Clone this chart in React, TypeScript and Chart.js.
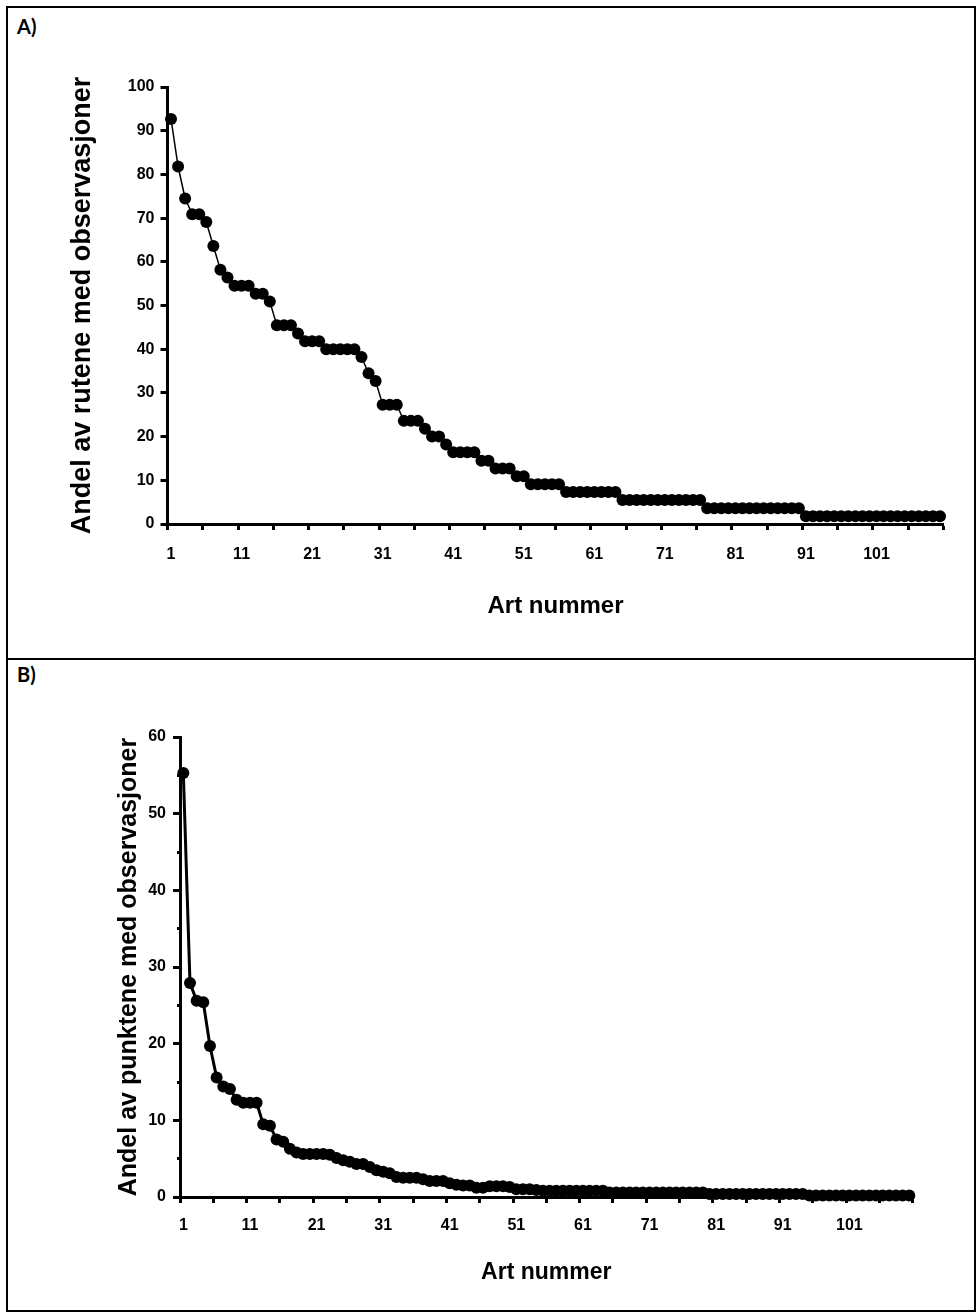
import React, { useEffect, useRef } from 'react';
import { Chart, registerables } from 'chart.js';

Chart.register(...registerables);

// Panel A: share of grid squares (ruter) with observations, per species (sorted)
const A_VALUES = [
  92.7, 81.8, 74.5, 70.9, 70.9, 69.1, 63.6, 58.2, 56.4, 54.5,
  54.5, 54.5, 52.7, 52.7, 50.9, 45.5, 45.5, 45.5, 43.6, 41.8,
  41.8, 41.8, 40.0, 40.0, 40.0, 40.0, 40.0, 38.2, 34.5, 32.7,
  27.3, 27.3, 27.3, 23.6, 23.6, 23.6, 21.8, 20.0, 20.0, 18.2,
  16.4, 16.4, 16.4, 16.4, 14.5, 14.5, 12.7, 12.7, 12.7, 10.9,
  10.9, 9.1, 9.1, 9.1, 9.1, 9.1, 7.3, 7.3, 7.3, 7.3,
  7.3, 7.3, 7.3, 7.3, 5.5, 5.5, 5.5, 5.5, 5.5, 5.5,
  5.5, 5.5, 5.5, 5.5, 5.5, 5.5, 3.6, 3.6, 3.6, 3.6,
  3.6, 3.6, 3.6, 3.6, 3.6, 3.6, 3.6, 3.6, 3.6, 3.6,
  1.8, 1.8, 1.8, 1.8, 1.8, 1.8, 1.8, 1.8, 1.8, 1.8,
  1.8, 1.8, 1.8, 1.8, 1.8, 1.8, 1.8, 1.8, 1.8, 1.8,
];

// Panel B: share of points (punkter) with observations, per species (sorted)
const B_VALUES = [
  55.3, 27.9, 25.6, 25.4, 19.7, 15.6, 14.4, 14.1, 12.7, 12.3,
  12.3, 12.3, 9.5, 9.3, 7.5, 7.2, 6.3, 5.8, 5.6, 5.6,
  5.6, 5.6, 5.5, 5.1, 4.8, 4.6, 4.3, 4.3, 3.9, 3.5,
  3.3, 3.1, 2.6, 2.5, 2.5, 2.5, 2.3, 2.1, 2.1, 2.1,
  1.8, 1.6, 1.5, 1.5, 1.2, 1.2, 1.4, 1.4, 1.4, 1.3,
  1.0, 1.0, 1.0, 0.9, 0.8, 0.8, 0.8, 0.8, 0.8, 0.8,
  0.8, 0.8, 0.8, 0.8, 0.6, 0.6, 0.6, 0.6, 0.6, 0.6,
  0.6, 0.6, 0.6, 0.6, 0.6, 0.6, 0.6, 0.6, 0.6, 0.4,
  0.4, 0.4, 0.4, 0.4, 0.4, 0.4, 0.4, 0.4, 0.4, 0.4,
  0.4, 0.4, 0.4, 0.4, 0.2, 0.2, 0.2, 0.2, 0.2, 0.2,
  0.2, 0.2, 0.2, 0.2, 0.2, 0.2, 0.2, 0.2, 0.2, 0.2,
];

// Species numbers (category labels)
const SPECIES = A_VALUES.map((_, i) => String(i + 1));

const A_Y_TITLE = 'Andel av rutene med observasjoner';
const B_Y_TITLE = 'Andel av punktene med observasjoner';
const X_TITLE = 'Art nummer';

const A_Y_MAX = 100;
const A_Y_STEP = 10;
const A_Y_LABEL_STEP = 10;
const B_Y_MAX = 60;
const B_Y_STEP = 5;
const B_Y_LABEL_STEP = 10;
const X_TICK_EVERY = 5;
const X_LABEL_EVERY = 10;

const FONT = '"Liberation Sans", Arial, Helvetica, sans-serif';

type PanelProps = {
  values: number[];
  yMax: number;
  yStep: number;
  yLabelStep: number;
  yTitle: string;
  yTitleSize: number;
  xTitleSize: number;
  xTitlePad: number;
  lineWidth: number;
  pointRadius: number;
  height: number;
  padding: { left: number; top: number; right: number; bottom: number };
  yWidth: number;
  xHeight: number;
  yTickPad: number;
  xTickPad: number;
};

function Panel(p: PanelProps) {
  const ref = useRef<HTMLCanvasElement | null>(null);
  useEffect(() => {
    if (!ref.current) return;
    const black = '#000000';
    const clear = 'rgba(0,0,0,0)';
    const chart = new Chart(ref.current, {
      type: 'line',
      data: {
        labels: SPECIES,
        datasets: [
          {
            data: p.values,
            borderColor: black,
            borderWidth: p.lineWidth,
            backgroundColor: black,
            pointBackgroundColor: black,
            pointBorderColor: black,
            pointBorderWidth: 0,
            pointRadius: p.pointRadius,
            pointHoverRadius: p.pointRadius,
            tension: 0,
            fill: false,
            clip: false as any,
          },
        ],
      },
      options: {
        animation: false,
        responsive: false,
        devicePixelRatio: 1,
        events: [],
        layout: { padding: p.padding },
        plugins: {
          legend: { display: false },
          tooltip: { enabled: false },
          title: { display: false },
        },
        scales: {
          x: {
            type: 'category',
            offset: true,
            grid: {
              offset: true,
              drawOnChartArea: false,
              drawTicks: true,
              tickLength: 6,
              tickWidth: 3,
              tickColor: (ctx: any) =>
                ctx.type !== 'tick' || ctx.index % X_TICK_EVERY === 0 ? black : clear,
            },
            border: { display: true, color: black, width: 3 },
            ticks: {
              autoSkip: false,
              maxRotation: 0,
              minRotation: 0,
              color: black,
              padding: p.xTickPad,
              font: { family: FONT, size: 16, weight: 'bold' },
              callback: (_v: any, i: number) => (i % X_LABEL_EVERY === 0 ? SPECIES[i] : ''),
            },
            title: {
              display: true,
              text: X_TITLE,
              color: black,
              font: { family: FONT, size: p.xTitleSize, weight: 'bold' },
              padding: { top: 0, bottom: p.xTitlePad },
            },
            afterFit: (s: any) => {
              s.height = p.xHeight;
            },
          },
          y: {
            type: 'linear',
            min: 0,
            max: p.yMax,
            grid: {
              drawOnChartArea: false,
              drawTicks: true,
              tickLength: 7,
              tickWidth: 3,
              tickColor: black,
              tickBorderDash: (ctx: any) =>
                ctx.tick && ctx.tick.value % p.yLabelStep !== 0 ? [0, 4, 20, 100] : [],
            },
            border: { display: true, color: black, width: 3 },
            ticks: {
              stepSize: p.yStep,
              color: black,
              padding: p.yTickPad,
              font: { family: FONT, size: 16, weight: 'bold' },
              callback: (v: any) => (Number(v) % p.yLabelStep === 0 ? String(v) : ''),
            },
            title: {
              display: true,
              text: p.yTitle,
              color: black,
              font: { family: FONT, size: p.yTitleSize, weight: 'bold' },
              padding: 0,
            },
            afterFit: (s: any) => {
              s.width = p.yWidth;
            },
          },
        },
      } as any,
    });
    return () => chart.destroy();
  }, []);
  return <canvas ref={ref} width={978} height={p.height} style={{ display: 'block' }} />;
}

const letterStyle: React.CSSProperties = {
  position: 'absolute',
  left: 17,
  fontFamily: 'Lato, "Open Sans", sans-serif',
  fontWeight: 'bold',
  fontSize: 20,
  lineHeight: '20px',
  color: '#000',
};

export default function App() {
  return (
    <div style={{ position: 'absolute', left: 0, top: 0, width: 978, height: 1314, background: '#fff' }}>
      <div
        style={{
          position: 'absolute',
          left: 6,
          top: 6,
          width: 970,
          height: 1306,
          border: '2px solid #000',
          boxSizing: 'border-box',
        }}
      />
      <div style={{ position: 'absolute', left: 6, top: 658, width: 970, height: 2, background: '#000' }} />
      <div style={{ ...letterStyle, top: 16 }}>A)</div>
      <div style={{ ...letterStyle, top: 664 }}>B)</div>
      <div style={{ position: 'absolute', left: 0, top: 0 }}>
        <Panel
          values={A_VALUES}
          yMax={A_Y_MAX}
          yStep={A_Y_STEP}
          yLabelStep={A_Y_LABEL_STEP}
          yTitle={A_Y_TITLE}
          yTitleSize={27}
          xTitleSize={24}
          xTitlePad={38}
          lineWidth={1.5}
          pointRadius={6}
          height={659}
          padding={{ left: 66, top: 87, right: 34.5, bottom: 0 }}
          yWidth={101.5}
          xHeight={135}
          yTickPad={6}
          xTickPad={15}
        />
      </div>
      <div style={{ position: 'absolute', left: 0, top: 659 }}>
        <Panel
          values={B_VALUES}
          yMax={B_Y_MAX}
          yStep={B_Y_STEP}
          yLabelStep={B_Y_LABEL_STEP}
          yTitle={B_Y_TITLE}
          yTitleSize={25}
          xTitleSize={23}
          xTitlePad={28}
          lineWidth={3}
          pointRadius={6}
          height={655}
          padding={{ left: 114, top: 78, right: 65.4, bottom: 0 }}
          yWidth={66}
          xHeight={117}
          yTickPad={7}
          xTickPad={13}
        />
      </div>
    </div>
  );
}
